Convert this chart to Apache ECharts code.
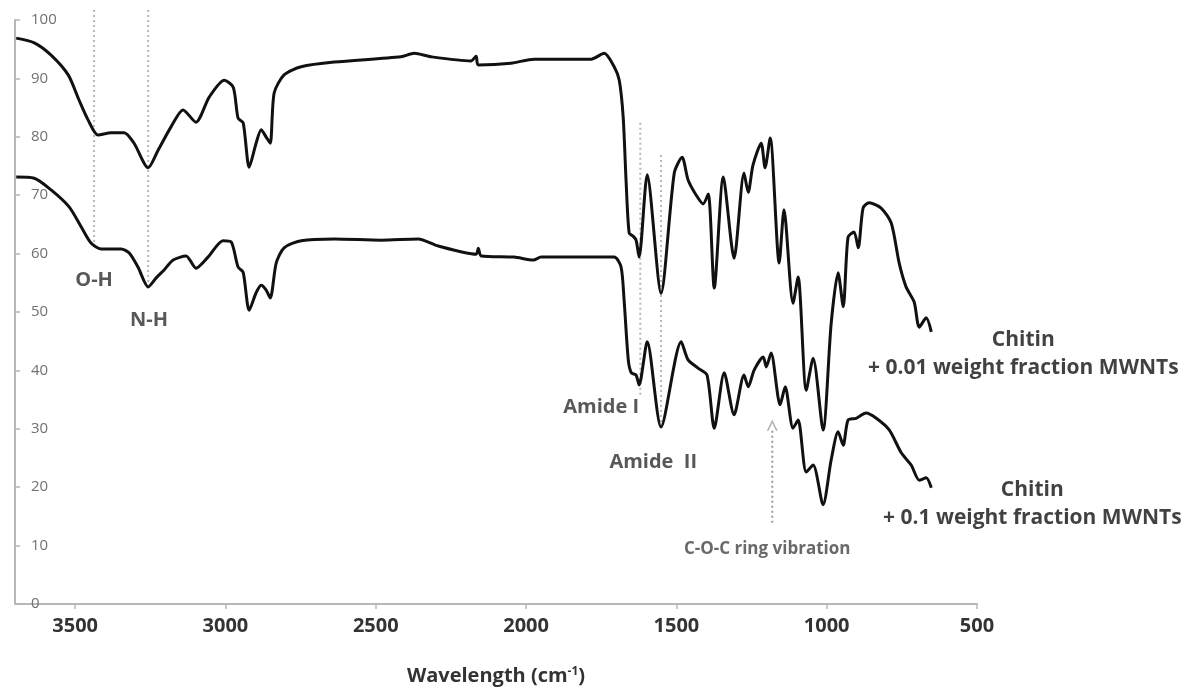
<!DOCTYPE html>
<html>
<head>
<meta charset="utf-8">
<script src="https://cdn.jsdelivr.net/npm/echarts@6/dist/echarts.min.js"></script>
<style>
  html, body { margin: 0; padding: 0; background: #fff; }
  #chart { width: 1187px; height: 691px; }
</style>
</head>
<body>
<div id="chart"></div>
<script>
// FTIR transmittance spectra of chitin / MWNT composites

// Chitin + 0.01 weight fraction MWNTs
const lowLoadWavenumbers = [
  3696, 3636, 3580, 3523, 3487, 3457, 3424, 3380, 3337, 3304, 3257, 3224, 3181, 3141, 3098, 3054,
  3004, 2974, 2958, 2941, 2921, 2898, 2881, 2865, 2851, 2838, 2805, 2748, 2638, 2416, 2372, 2316,
  2183, 2166, 2159, 2050, 1973, 1783, 1740, 1707, 1690, 1677, 1667, 1657, 1644, 1634, 1624, 1597,
  1551, 1507, 1481, 1461, 1434, 1411, 1394, 1374, 1344, 1308, 1275, 1261, 1245, 1218, 1205, 1188,
  1158, 1142, 1112, 1095, 1068, 1045, 1012, 985, 962, 945, 929, 909, 895, 879, 859, 819, 785, 759,
  736, 709, 692, 669, 652
];
const lowLoadTransmittance = [
  96.9, 96.1, 94.0, 90.6, 86.3, 82.9, 80.3, 80.7, 80.7, 78.9, 74.7, 77.7, 81.7, 84.6, 82.5, 86.8,
  89.7, 88.5, 83.2, 82.4, 74.8, 78.9, 81.2, 80.0, 78.9, 87.5, 90.6, 92.0, 92.8, 93.7, 94.3, 93.7,
  93.0, 93.8, 92.3, 92.6, 93.3, 93.3, 94.3, 92.0, 89.7, 83.4, 72.1, 63.5, 63.0, 62.3, 59.4, 73.5,
  53.2, 73.8, 76.5, 72.6, 70.0, 68.5, 70.2, 54.1, 73.1, 59.2, 73.8, 70.5, 75.2, 78.9, 74.7, 79.8,
  58.4, 67.5, 51.5, 56.0, 36.6, 42.1, 29.8, 48.1, 56.7, 50.9, 62.8, 63.7, 61.0, 67.8, 68.7, 67.8, 65.2, 58.4,
  54.3, 51.7, 47.4, 49.0, 46.6
];

// Chitin + 0.1 weight fraction MWNTs
const highLoadWavenumbers = [
  3696, 3636, 3580, 3520, 3480, 3447, 3414, 3347, 3320, 3291, 3257, 3231, 3204, 3174, 3131, 3098,
  3058, 3008, 2981, 2958, 2941, 2921, 2898, 2881, 2865, 2851, 2831, 2805, 2748, 2638, 2482, 2359,
  2292, 2166, 2159, 2149, 2040, 1976, 1950, 1707, 1684, 1674, 1660, 1650, 1634, 1624, 1597, 1551,
  1484, 1461, 1428, 1398, 1374, 1341, 1308, 1275, 1261, 1241, 1211, 1201, 1185, 1155, 1138, 1112,
  1095, 1068, 1045, 1012, 985, 962, 945, 929, 902, 869, 835, 792, 752, 719, 692, 669, 652
];
const highLoadTransmittance = [
  73.1, 72.9, 70.9, 68.0, 64.6, 61.8, 60.8, 60.8, 60.1, 57.7, 54.3, 55.8, 57.2, 58.9, 59.6, 57.5,
  59.4, 62.2, 62.0, 57.7, 56.8, 50.3, 53.3, 54.6, 53.8, 52.4, 58.4, 61.0, 62.2, 62.5, 62.3, 62.5,
  61.3, 59.9, 60.9, 59.6, 59.4, 58.9, 59.4, 59.4, 57.7, 52.1, 41.8, 39.6, 39.2, 37.5, 44.9, 30.3,
  44.9, 41.8, 40.4, 39.2, 30.1, 39.6, 32.4, 39.2, 37.2, 40.1, 42.3, 40.6, 43.0, 34.1, 37.2, 30.1,
  31.5, 22.6, 23.8, 17.0, 24.7, 29.5, 27.2, 31.5, 31.8, 32.7, 31.8, 29.8, 25.9, 23.8, 21.2, 21.6, 19.9
];

// Axis ticks
const xTicks = [3500, 3000, 2500, 2000, 1500, 1000, 500];
const yTicks = [0, 10, 20, 30, 40, 50, 60, 70, 80, 90, 100];

// Band assignment guide lines (wavenumber, top, bottom)
const guideWavenumbers = [3437, 3257, 1620, 1551];
const guideTops = [101.7, 101.7, 82.4, 76.9];
const guideBottoms = [61.8, 55.0, 35.8, 30.6];

// Band labels
const bandNames = ['O-H', 'N-H', 'Amide I', 'Amide  II'];
const bandLabelX = [3437, 3254, 1750, 1577];
const bandLabelY = [55.5, 48.6, 33.6, 24.3];

// C-O-C ring vibration arrow
const ringBand = 1181;
const ringArrowFrom = 13.9;
const ringArrowTo = 30.6;
const ringLabelPos = [1198, 9.4];
const ringLabel = 'C-O-C ring vibration';

// Sample names placed beside each trace
const sampleNames = ['Chitin\n+ 0.01 weight fraction MWNTs', 'Chitin\n+ 0.1 weight fraction MWNTs'];
const sampleLabelX = [346, 316];
const sampleLabelY = [42.8, 17.1];

const FONT = '"Open Sans", Lato, sans-serif';

function pairs(xs, ys) { return xs.map((x, i) => [x, ys[i]]); }

const guideSeries = guideWavenumbers.map((w, i) => ({
  type: 'line',
  data: [[w, guideTops[i]], [w, guideBottoms[i]]],
  symbol: 'none',
  clip: false,
  silent: true,
  z: 1,
  lineStyle: { color: '#b8b8b8', width: 2, type: [2, 3] }
}));

const chart = echarts.init(document.getElementById('chart'), null, { renderer: 'canvas' });

chart.setOption({
  animation: false,
  backgroundColor: '#ffffff',
  grid: { left: 15, right: 210, top: 20, bottom: 87, containLabel: false },
  xAxis: {
    type: 'value',
    inverse: true,
    min: 500,
    max: 3700,
    interval: 500,
    name: 'Wavelength (cm{sup|-1})',
    nameLocation: 'middle',
    nameGap: 62,
    nameTextStyle: {
      fontFamily: FONT, fontSize: 20, fontWeight: 'bold', color: '#333',
      rich: { sup: { fontFamily: FONT, fontSize: 12, fontWeight: 'bold', color: '#333', verticalAlign: 'top', lineHeight: 13 } }
    },
    axisLine: { show: true, lineStyle: { color: '#b8b8b8', width: 2 } },
    axisTick: { show: true, inside: false, length: 5, lineStyle: { color: '#b8b8b8', width: 1.5 } },
    axisLabel: {
      margin: 12,
      showMaxLabel: false,
      fontFamily: FONT, fontSize: 20, fontWeight: 'bold', color: '#333',
      formatter: v => (xTicks.indexOf(v) >= 0 ? String(v) : '')
    },
    splitLine: { show: false }
  },
  yAxis: {
    type: 'value',
    min: 0,
    max: 100,
    interval: 10,
    axisLine: { show: true, lineStyle: { color: '#b8b8b8', width: 2 } },
    axisTick: { show: true, inside: true, length: 5, lineStyle: { color: '#b8b8b8', width: 1.5 } },
    axisLabel: {
      inside: true,
      margin: 16,
      fontFamily: FONT, fontSize: 15, color: '#707070',
      formatter: v => (yTicks.indexOf(v) >= 0 ? String(v) : '')
    },
    splitLine: { show: false }
  },
  series: [
    ...guideSeries,
    {
      name: 'Chitin + 0.01 weight fraction MWNTs',
      type: 'line',
      data: pairs(lowLoadWavenumbers, lowLoadTransmittance),
      symbol: 'none',
      smooth: 0.25,
      z: 3,
      lineStyle: { color: '#111', width: 3 }
    },
    {
      name: 'Chitin + 0.1 weight fraction MWNTs',
      type: 'line',
      data: pairs(highLoadWavenumbers, highLoadTransmittance),
      symbol: 'none',
      smooth: 0.25,
      z: 3,
      lineStyle: { color: '#111', width: 3 }
    },
    {
      // dotted shaft of the ring-vibration arrow
      type: 'line',
      data: [[ringBand, ringArrowFrom], [ringBand, ringArrowTo - 0.6]],
      symbol: 'none',
      silent: true,
      z: 1,
      lineStyle: { color: '#9a9a9a', width: 2, type: [2, 3] }
    },
    {
      // open arrow head
      type: 'scatter',
      data: [[ringBand, ringArrowTo]],
      symbol: 'path://M0,12 L5,0 L10,12 L8.4,12 L5,3.6 L1.6,12 Z',
      symbolSize: [11, 11],
      silent: true,
      z: 2,
      itemStyle: { color: '#9a9a9a' }
    },
    {
      // band labels
      type: 'scatter',
      symbolSize: 0,
      silent: true,
      clip: false,
      z: 4,
      data: bandNames.map((t, i) => ({ value: [bandLabelX[i], bandLabelY[i]], name: t })),
      label: {
        show: true, position: 'inside', formatter: p => p.name,
        fontFamily: FONT, fontSize: 20, fontWeight: 'bold', color: '#2e2e2e'
      }
    },
    {
      type: 'scatter',
      symbolSize: 0,
      silent: true,
      clip: false,
      z: 4,
      data: [{ value: ringLabelPos, name: ringLabel }],
      label: {
        show: true, position: 'inside', formatter: p => p.name,
        fontFamily: FONT, fontSize: 17, fontWeight: 'bold', color: '#444'
      }
    },
    {
      // sample names beside the traces
      type: 'scatter',
      symbolSize: 0,
      silent: true,
      clip: false,
      z: 4,
      data: sampleNames.map((t, i) => ({ value: [sampleLabelX[i], sampleLabelY[i]], name: t })),
      label: {
        show: true, position: 'inside', formatter: p => p.name, align: 'center',
        lineHeight: 28,
        fontFamily: FONT, fontSize: 21, fontWeight: 'bold', color: '#111'
      }
    }
  ]
});
</script>
</body>
</html>
